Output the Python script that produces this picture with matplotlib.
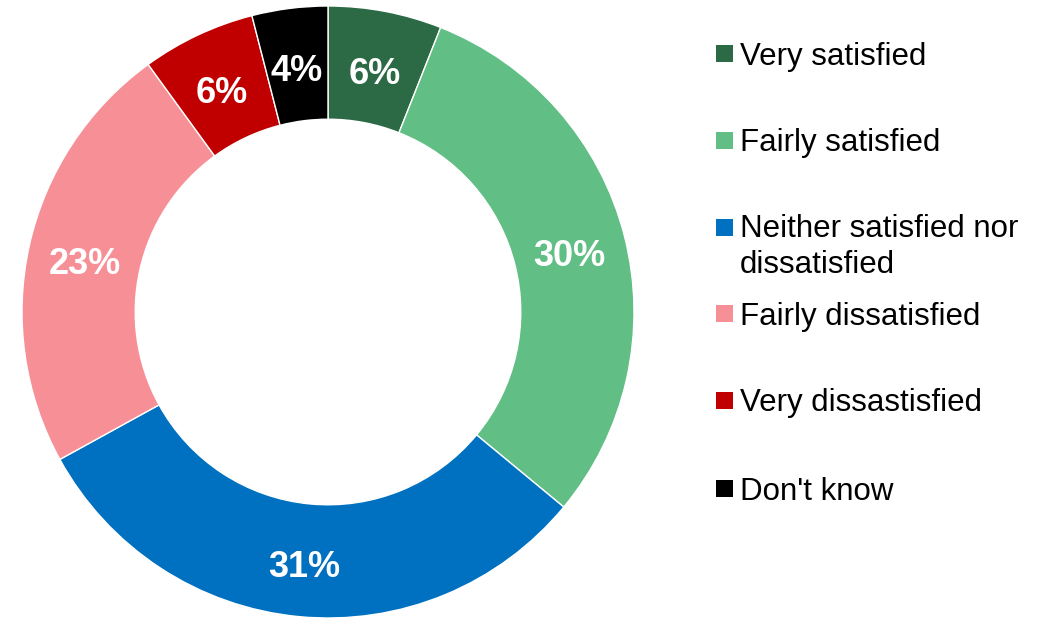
import matplotlib
matplotlib.use("Agg")
import matplotlib.pyplot as plt
from matplotlib.patches import Rectangle
from matplotlib.transforms import ScaledTranslation

categories = ["Very satisfied", "Fairly satisfied", "Neither satisfied nor\ndissatisfied",
              "Fairly dissatisfied", "Very dissastisfied", "Don't know"]
values = [6, 30, 31, 23, 6, 4]
colors = ["#2B6A45", "#61BE84", "#0070C0", "#F78F97", "#C00000", "#000000"]

plt.rcParams['font.family'] = ['Liberation Sans', 'DejaVu Sans']

W, H = 1050, 618
fig = plt.figure(figsize=(W / 100, H / 100), dpi=100)
cx, cy, R = 328, 312, 306
ax = fig.add_axes([(cx - R) / W, (H - cy - R) / H, 2 * R / W, 2 * R / H])
wedges, texts = ax.pie(values, colors=colors, startangle=90, counterclock=False,
                       radius=1.0, wedgeprops=dict(width=0.37, edgecolor="white", linewidth=1),
                       labels=[f"{v}%" for v in values], labeldistance=0.815,
                       textprops=dict(color="white", fontsize=26, fontweight="bold",
                                      ha="center", va="center"))
shift = ScaledTranslation(0, -0.07, fig.dpi_scale_trans)
for t in texts:
    t.set_ha("center")
    t.set_va("center")
    t.set_transform(t.get_transform() + shift)
ax.set_xlim(-1, 1)
ax.set_ylim(-1, 1)
ax.set_aspect("equal")
ax.axis("off")

# legend drawn manually
row_y = [53, 140, 227, 313, 400, 488]
for cat, col, y in zip(categories, colors, row_y):
    fig.patches.append(Rectangle((716 / W, (H - y - 8.5) / H), 17 / W, 17 / H,
                                 transform=fig.transFigure, facecolor=col, edgecolor="none"))
    if "\n" in cat:
        fig.text(740 / W, (H - y + 13) / H, cat, fontsize=22.5, color="black",
                 ha="left", va="top", linespacing=1.26)
    else:
        fig.text(740 / W, (H - y) / H, cat, fontsize=22.5, color="black",
                 ha="left", va="center_baseline")

fig.savefig("out.png", dpi=100, facecolor="white")
